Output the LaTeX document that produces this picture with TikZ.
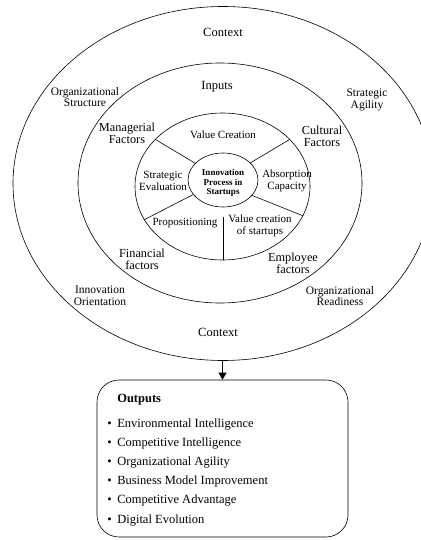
\documentclass[tikz,border=0pt]{standalone}
\usepackage{fontspec}
\setmainfont{Liberation Serif}
\usetikzlibrary{arrows.meta,shapes.geometric}

\tikzset{
  ring/.style={draw, ellipse, inner sep=0pt},
  ctxlabel/.style={align=center, inner sep=0pt, font=\fontsize{12.5}{12.5}\selectfont},
  outerlabel/.style={align=center, inner sep=0pt, font=\fontsize{11.5}{11.7}\selectfont},
  midlabel/.style={align=center, inner sep=0pt, font=\fontsize{12.3}{12.3}\selectfont},
  innerlabel/.style={align=center, inner sep=0pt, font=\fontsize{11}{11.5}\selectfont},
  corelabel/.style={align=center, inner sep=0pt, font=\fontsize{9}{9.6}\selectfont\bfseries},
  outbox/.style={draw, rounded corners=22pt, minimum width=251pt, minimum height=157pt},
  outitem/.style={anchor=base west, inner sep=0pt, font=\fontsize{12.5}{12.5}\selectfont}
}

\begin{document}
\begin{tikzpicture}[x=1pt, y=-1pt, line width=0.6pt]
  \useasboundingbox (0,0) rectangle (420,540);

  % The rings, outside in (the outer one runs off the right edge)
  \node[ring, minimum width=420pt, minimum height=354pt] (outer) at (223,183.5) {};
  \node[ring, minimum width=284pt, minimum height=240pt] (middle) at (220,183) {};
  \node[ring, minimum width=175pt, minimum height=147pt] (inner) at (222.5,186.5) {};
  \node[ring, minimum width=70pt, minimum height=54pt] (core) at (223,180) {};

  % Spokes of the inner ring
  \draw (core.149) -- (inner.145);
  \draw (core.32) -- (inner.35);
  \draw (core.332) -- (inner.340);
  \draw (core.206) -- (inner.203);
  \coordinate (split) at (223,217);
  \draw (split) -- (split |- inner.south);

  % Context ring
  \node[ctxlabel] (ctxtop) at (223,32) {Context};
  \node[outerlabel] (orgstruct) at (85,97) {Organizational\\Structure};
  \node[outerlabel] (stragility) at (367,100) {Strategic\\Agility};
  \node[outerlabel] (innorient) at (100,296) {Innovation\\Orientation};
  \node[outerlabel] (orgready) at (340,296) {Organizational\\Readiness};
  \node[ctxlabel] (ctxbottom) at (218,332) {Context};

  % Inputs ring
  \node[ctxlabel] (inputs) at (217,87) {Inputs};
  \node[midlabel] (managerial) at (127,133) {Managerial\\Factors};
  \node[midlabel] (cultural) at (322,136) {Cultural\\Factors};
  \node[midlabel] (financial) at (142,259) {Financial\\factors};
  \node[midlabel] (employee) at (293,263) {Employee\\factors};

  % Process ring
  \node[innerlabel] (valuecr) at (223,135) {Value Creation};
  \node[innerlabel] (streval) at (163,181) {Strategic\\Evaluation};
  \node[innerlabel] (absorb) at (287,181) {Absorption\\Capacity};
  \node[innerlabel] (propos) at (185,223) {Propositioning};
  \node[innerlabel] (valuest) at (260,226) {Value creation\\of startups};
  \node[corelabel] (process) at (223,183) {Innovation\\Process in\\Startups};

  % Outputs
  \node[outbox] (outputs) at (222.5,458.5) {};
  \draw[-{Triangle[length=7pt,width=8pt]}] (outputs.north |- outer.south) -- (outputs.north);
  \node[outitem, font=\fontsize{12.5}{12.5}\selectfont\bfseries] (outtitle) at (117,402) {Outputs};
  \foreach \txt [count=\i] in {Environmental Intelligence, Competitive Intelligence,
      Organizational Agility, Business Model Improvement, Competitive Advantage, Digital Evolution}
    \node[outitem] (out\i) at (107,{423+19.2*(\i-1)+4}) {\makebox[10pt][l]{\textbullet}\txt};
\end{tikzpicture}
\end{document}
